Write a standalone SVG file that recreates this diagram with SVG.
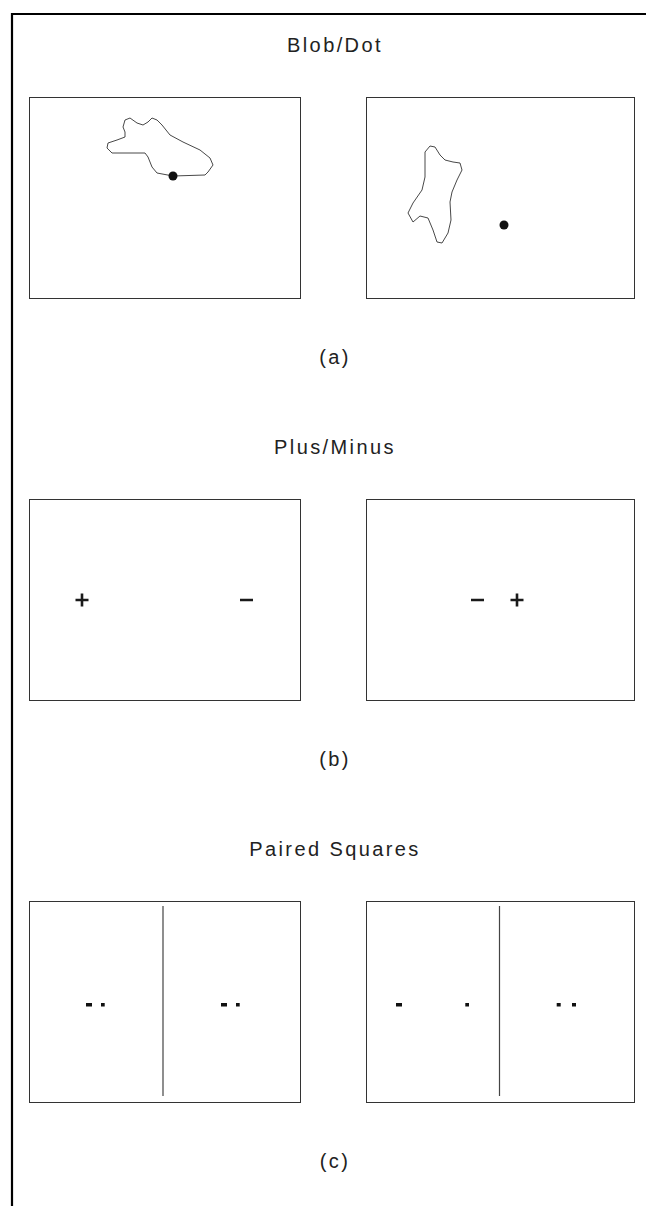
<svg xmlns="http://www.w3.org/2000/svg" width="646" height="1206" viewBox="0 0 646 1206">
<style>
.t{font-family:"Liberation Sans",Arial,sans-serif;font-size:20px;fill:#222;text-anchor:middle;letter-spacing:2.4px}
.p{fill:none;stroke:#333;stroke-width:1}
.b{fill:none;stroke:#333;stroke-width:0.9;stroke-linejoin:round}
.d{fill:#111}
.s{stroke:#1a1a1a;stroke-width:2.6;fill:none}
.v{stroke:#444;stroke-width:1.2}
</style>
<rect width="646" height="1206" fill="#fff"/>
<g id="frame"><path d="M12,1206 V14 H646" fill="none" stroke="#000" stroke-width="2.2"/></g>
<g id="labels">
<text class="t" x="335" y="52">Blob/Dot</text>
<text class="t" x="335" y="364">(a)</text>
<text class="t" x="335" y="454">Plus/Minus</text>
<text class="t" x="335" y="766">(b)</text>
<text class="t" x="335" y="856">Paired Squares</text>
<text class="t" x="335" y="1168">(c)</text>
</g>
<g id="panel-a-left">
<rect class="p" x="29.5" y="97.5" width="271" height="201"/>
<path class="b" d="M125,120 L130,118 L137,123 L143,125 L148,122 L152,118 L157,120 L162,125 L170,135 L183,142 L200,150 L210,158 L213,165 L208,172 L205,175 L173,176 L157,173 L152,167 L148,157 L145,153 L130,153 L112,153 L107,148 L108,143 L117,140 L125,137 L125,132 L123,127 Z"/>
<circle class="d" cx="173" cy="176" r="4.5"/>
</g>
<g id="panel-a-right">
<rect class="p" x="366.5" y="97.5" width="268" height="201"/>
<path class="b" d="M425,152 L430,146 L435,147 L440,155 L445,160 L453,162 L460,163 L462,170 L457,180 L452,192 L450,202 L451,220 L448,233 L442,243 L437,242 L433,230 L428,218 L420,216 L413,222 L408,213 L413,203 L422,190 L425,177 Z"/>
<circle class="d" cx="504" cy="225" r="4.5"/>
</g>
<g id="panel-b-left">
<rect class="p" x="29.5" y="499.5" width="271" height="201"/>
<path class="s" d="M75.5,600 H88.5 M82,593.5 V606.5 M240,600 H253"/>
</g>
<g id="panel-b-right">
<rect class="p" x="366.5" y="499.5" width="268" height="201"/>
<path class="s" d="M471,600 H484 M510.5,600 H523.5 M517,593.5 V606.5"/>
</g>
<g id="panel-c-left">
<rect class="p" x="29.5" y="901.5" width="271" height="201"/>
<line class="v" x1="163" y1="906" x2="163" y2="1096"/>
<rect class="d" x="86" y="1003" width="6" height="3.5"/>
<rect class="d" x="101" y="1003" width="3.7" height="3.5"/>
<rect class="d" x="221" y="1003" width="6" height="3.5"/>
<rect class="d" x="236" y="1003" width="3.7" height="3.5"/>
</g>
<g id="panel-c-right">
<rect class="p" x="366.5" y="901.5" width="268" height="201"/>
<line class="v" x1="499.5" y1="906" x2="499.5" y2="1096"/>
<rect class="d" x="396" y="1003" width="6" height="3.5"/>
<rect class="d" x="465.3" y="1003" width="3.7" height="3.5"/>
<rect class="d" x="556.7" y="1003" width="4" height="3.5"/>
<rect class="d" x="572" y="1003" width="4" height="3.5"/>
</g>
</svg>
